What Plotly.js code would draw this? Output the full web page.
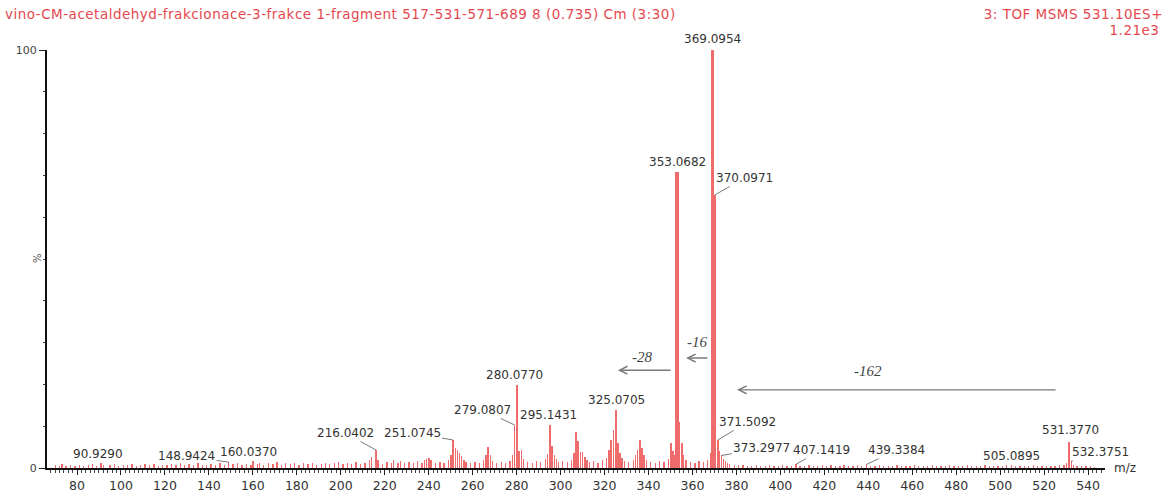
<!DOCTYPE html>
<html>
<head>
<meta charset="utf-8">
<script src="https://cdn.plot.ly/plotly-3.0.1.min.js"></script>
<style>
html,body{margin:0;padding:0;background:#fff;}
#chart{width:1166px;height:494px;}
#chart text.gtitle{letter-spacing:0.5px;}
</style>
</head>
<body>
<div id="chart"></div>
<script>
// ---- spectrum data: [m/z, relative intensity %] ----
const peaksLow = [
 [70.1,0.6],[72.0,0.4],[73.1,0.9],[75.0,0.5],[77.0,0.7],[79.1,0.4],[81.0,0.8],[83.0,0.5],[85.1,0.6],[87.0,0.9],
 [89.0,0.5],[90.929,1.1],[92.1,0.6],[95.0,0.7],[97.1,0.9],[99.0,0.5],[101.0,0.8],[103.1,0.6],[105.0,1.0],[107.1,0.5],
 [109.0,0.7],[111.0,0.9],[113.1,0.6],[115.0,1.0],[117.1,0.5],[119.0,0.8],[121.0,0.6],[123.1,0.9],[125.0,0.7],[127.1,1.2],
 [129.0,0.6],[131.0,0.9],[133.1,0.7],[135.0,1.1],[137.1,0.6],[139.0,0.8],[141.0,1.0],[143.1,0.7],[145.0,1.2],[147.1,0.8],
 [148.9424,1.4],[151.0,0.9],[153.1,1.1],[155.0,0.7],[157.0,1.0],[159.1,0.8],[160.037,1.6],[162.0,0.9],[163.1,1.3],[165.0,0.8],
 [167.0,1.1],[169.1,0.9],[171.0,1.4],[173.1,0.8],[175.0,1.2],[177.0,0.9],[179.1,1.1],[181.0,0.8],[183.0,1.3],[185.1,0.9],
 [187.0,1.2],[189.0,0.8],[191.1,1.0],[193.0,1.3],[195.0,0.9],[197.1,1.1],[199.0,1.4],[201.0,0.9],[203.1,1.2],[205.0,1.0],
 [207.0,1.5],[209.1,0.9],[211.0,1.3]
];
const peaksMid = [
 [213.0,1.8],[214.1,2.6],[216.0402,4.3],[217.0,2.0],[219.0,1.0],[221.1,1.4],[223.0,1.2],[224.1,1.9],[226.0,1.3],[227.1,1.7],
 [229.0,1.1],[231.0,1.4],[233.1,1.2],[235.0,1.6],[237.0,1.3],[238.1,1.9],[239.0,2.2],[240.1,2.4],[241.0,2.0],[243.0,1.2],
 [245.1,1.5],[247.0,1.1],[249.0,1.8],[250.1,3.1],[251.0745,6.7],[252.1,4.9],[253.0,4.3],[254.1,3.6],[255.0,2.8],[256.1,2.0],
 [257.0,1.4],[259.0,1.2],[261.1,1.5],[263.0,1.3],[265.0,1.9],[266.1,3.0],[267.0,5.0],[268.1,3.2],[269.0,1.6],[271.0,1.2],
 [273.1,1.4],[275.0,1.1],[277.0,1.6],[278.1,3.2],[279.0807,10.3],[280.077,19.9],[281.1,4.0],[282.1,4.3],[283.0,2.2],[285.0,1.5],
 [287.1,1.3],[289.0,1.7],[291.0,1.4],[293.1,2.1],[294.1,3.3],[295.1431,10.3],[296.1,5.2],[297.1,3.0],[298.0,2.1],[299.1,1.5],
 [301.0,1.6],[303.1,1.4],[305.0,2.0],[306.1,3.6],[307.1,8.6],[308.1,6.4],[309.0,3.9],[310.1,3.8],[311.1,2.7],[312.0,1.9],
 [313.1,1.4],[315.0,1.6],[317.1,1.3],[319.0,1.8],[321.0,2.5],[322.1,4.2],[323.1,6.7],[324.1,9.0],[325.0705,13.9],[326.1,6.0],
 [327.1,3.6],[328.0,2.3],[329.1,1.6],[331.0,1.4],[333.1,2.0],[334.1,3.2],[335.1,4.3],[336.1,6.7],[337.1,4.8],[338.0,3.1],
 [339.1,2.0],[341.0,1.5],[343.1,1.3],[345.0,1.7],[347.1,1.4],[349.0,2.2]
];
const peaksMain = [
 [350.1,6.0],[351.1,4.0],[352.1,3.0],[353.0682,70.8],[353.3,55.0],[354.1,11.0],[355.1,6.0],[356.0,3.0],[357.1,1.8],[359.0,1.5],
 [361.1,1.3],[363.0,1.6],[365.1,1.4],[367.0,2.0],[368.1,3.5],[369.0954,100],[370.0971,65.3],[370.4,12.0],[371.5092,6.7],[372.1,4.0],
 [373.2977,3.0],[374.1,2.2],[375.0,1.6],[376.1,1.2],[377.0,0.9],[379.0,0.7],[381.1,0.6],[383.0,0.8]
];
const peaksHigh = [
 [385.1,0.5],[387.0,0.4],[389.1,0.6],[391.0,0.5],[393.1,0.4],[395.0,0.7],[397.1,0.5],[399.0,0.4],[401.1,0.6],[403.0,0.5],
 [405.1,0.4],[407.1419,0.9],[409.0,0.5],[411.1,0.4],[413.0,0.6],[415.1,0.5],[417.0,0.4],[419.1,0.6],[421.0,0.5],[423.1,0.7],
 [425.0,0.4],[427.1,0.5],[429.0,0.6],[431.1,0.4],[433.0,0.5],[435.1,0.6],[437.0,0.4],[439.3384,0.9],[441.1,0.5],[443.0,0.4],
 [445.1,0.6],[447.0,0.5],[449.1,0.4],[451.0,0.5],[453.1,0.6],[455.0,0.4],[457.1,0.5],[459.0,0.4],[461.1,0.6],[463.0,0.5],
 [465.1,0.4],[467.0,0.5],[469.1,0.6],[471.0,0.4],[473.1,0.5],[475.0,0.4],[477.1,0.6],[479.0,0.5],[481.1,0.4],[483.0,0.5],
 [485.1,0.6],[487.0,0.4],[489.1,0.5],[491.0,0.4],[493.1,0.6],[495.0,0.5],[497.1,0.4],[499.0,0.5],[501.1,0.4],[503.0,0.6],
 [505.0895,0.7],[507.1,0.4],[509.0,0.5],[511.1,0.4],[513.0,0.5],[515.1,0.6],[517.0,0.4],[519.1,0.5],[521.0,0.4],[523.1,0.5],
 [525.0,0.4],[527.1,0.6],[529.0,0.7],[530.2,1.2],[531.377,6.2],[532.3751,1.6],[533.4,0.8],[535.0,0.5],[537.1,0.4],[539.0,0.5],
 [541.1,0.4],[543.0,0.3]
];

// labelled peaks (m/z values printed on the spectrum)
const labelMz = [90.929,148.9424,160.037,216.0402,251.0745,279.0807,280.077,295.1431,325.0705,353.0682,
                 369.0954,370.0971,371.5092,373.2977,407.1419,439.3384,505.0895,531.377,532.3751];

// neutral-loss arrows
const lossText = ['-162','-28','-16'];
const lossFrom = [525.9, 350.7, 367.5];
const lossTo   = [380.3, 326.1, 357.1];
const lossY    = [18.7, 23.4, 26.3];
const lossTextX = [439.9, 337.0, 362.1];
const lossTextY = [23.2, 26.6, 30.2];

const xTicks = [80,100,120,140,160,180,200,220,240,260,280,300,320,340,360,380,400,420,440,460,480,500,520,540];

const titleLeft = 'vino-CM-acetaldehyd-frakcionace-3-frakce 1-fragment 517-531-571-689 8 (0.735) Cm (3:30)';
const titleRight1 = '3: TOF MSMS 531.10ES+';
const titleRight2 = '1.21e3';

// ---- build ----
const all = [].concat(peaksLow, peaksMid, peaksMain, peaksHigh);
const mz = all.map(p => p[0]);
const inten = all.map(p => p[1]);
const widths = inten.map(v => v >= 50 ? 1.6 : (v >= 5 ? 0.8 : 0.6));

const trace = {
  type: 'bar', x: mz, y: inten, width: widths,
  marker: {color: '#ef6c6c', line: {width: 0}},
  hoverinfo: 'x+y'
};

// label placement style: [mode, dx, dy] ; 'top' = directly above, 'lead' = with leader line
const labelStyle = {
  90.929:['top',-3,0], 148.9424:['lead',-42,-6], 160.037:['top',-4,0], 216.0402:['lead',-31,-17],
  251.0745:['lead',-41,-7], 279.0807:['lead',-32,-15], 280.077:['top',-2,1], 295.1431:['top',-1,1],
  325.0705:['top',1,1], 353.0682:['top',0,1], 369.0954:['top',0,2], 370.0971:['lead',30,-17],
  371.5092:['lead',30,-18], 373.2977:['lead',40,-7], 407.1419:['lead',25,-14], 439.3384:['lead',30,-14],
  505.0895:['top',0,0], 531.377:['top',1,3], 532.3751:['lead',29,-9]
};

const labFont = {family: 'DejaVu Sans', size: 12, color: '#333'};
const annotations = [];
labelMz.forEach(m => {
  const idx = mz.indexOf(m);
  const h = inten[idx];
  const st = labelStyle[m];
  if (st[0] === 'top') {
    annotations.push({x: m, y: h, xref: 'x', yref: 'y', text: m.toFixed(4), showarrow: false,
      yanchor: 'bottom', xanchor: 'center', xshift: st[1], yshift: st[2], font: labFont});
  } else {
    annotations.push({x: m, y: h, xref: 'x', yref: 'y', text: m.toFixed(4), showarrow: true,
      arrowhead: 0, arrowwidth: 0.8, arrowcolor: '#555', ax: st[1], ay: st[2], standoff: 0, font: labFont});
  }
});

lossText.forEach((t, i) => {
  annotations.push({x: lossTo[i], y: lossY[i], ax: lossFrom[i], ay: lossY[i], xref: 'x', yref: 'y',
    axref: 'x', ayref: 'y', text: '', showarrow: true, arrowhead: 5, arrowsize: 1.1, arrowwidth: 1.4,
    arrowcolor: '#7a7a7a', standoff: 0});
  annotations.push({x: lossTextX[i], y: lossTextY[i], xref: 'x', yref: 'y', text: t, showarrow: false,
    font: {family: 'Liberation Serif', size: 15, color: '#444', style: 'italic'}});
});

const redFont = {family: 'DejaVu Sans', size: 13.5, color: '#e5484e'};
annotations.push({xref: 'paper', yref: 'paper', x: 1.052, y: 1.086, xanchor: 'right', yanchor: 'middle',
  text: titleRight1, showarrow: false, font: redFont});
annotations.push({xref: 'paper', yref: 'paper', x: 1.052, y: 1.047, xanchor: 'right', yanchor: 'middle',
  text: titleRight2, showarrow: false, font: redFont});
annotations.push({xref: 'paper', yref: 'paper', x: -0.0095, y: 0.502, xanchor: 'center', yanchor: 'middle',
  text: '%', textangle: -90, showarrow: false, font: {family: 'DejaVu Sans', size: 10, color: '#444'}});
annotations.push({xref: 'paper', yref: 'paper', x: 1.007, y: 0, xanchor: 'left', yanchor: 'middle',
  text: 'm/z', showarrow: false, font: {family: 'DejaVu Sans', size: 12, color: '#333'}});

const layout = {
  width: 1166, height: 494,
  margin: {l: 47, r: 61, t: 50, b: 26, pad: 0},
  paper_bgcolor: '#ffffff', plot_bgcolor: '#ffffff',
  showlegend: false, bargap: 0,
  title: {text: titleLeft, x: 5/1166, xanchor: 'left', xref: 'container', y: 1 - 14/494, yanchor: 'middle',
          yref: 'container', font: redFont},
  xaxis: {
    range: [66.35, 547.7], tickvals: xTicks, ticktext: xTicks.map(String),
    ticks: 'outside', ticklen: 5, tickwidth: 1, tickcolor: '#222',
    showline: true, linecolor: '#111', linewidth: 2, showgrid: false, zeroline: false,
    tickfont: {family: 'DejaVu Sans', size: 12.5, color: '#333'},
    minor: {dtick: 2, tick0: 80, ticks: 'outside', ticklen: 3, tickwidth: 1, tickcolor: '#444', showgrid: false}
  },
  yaxis: {
    range: [0, 100], tickvals: [0, 100], ticktext: ['0', '100'],
    ticks: 'outside', ticklen: 6, tickwidth: 1, tickcolor: '#222',
    showline: true, linecolor: '#111', linewidth: 2, showgrid: false, zeroline: false,
    tickfont: {family: 'DejaVu Sans', size: 11, color: '#444'},
    minor: {dtick: 10, tick0: 0, ticks: 'outside', ticklen: 2, tickwidth: 1, tickcolor: '#444', showgrid: false}
  },
  annotations: annotations
};

Plotly.newPlot('chart', [trace], layout, {displayModeBar: false, staticPlot: true}).then(gd => {
  gd.querySelectorAll('text.annotation-text').forEach(el => {
    if (el.textContent === titleRight1 || el.textContent === titleRight2) {
      el.style.letterSpacing = '0.5px';
    }
  });
});
</script>
</body>
</html>
